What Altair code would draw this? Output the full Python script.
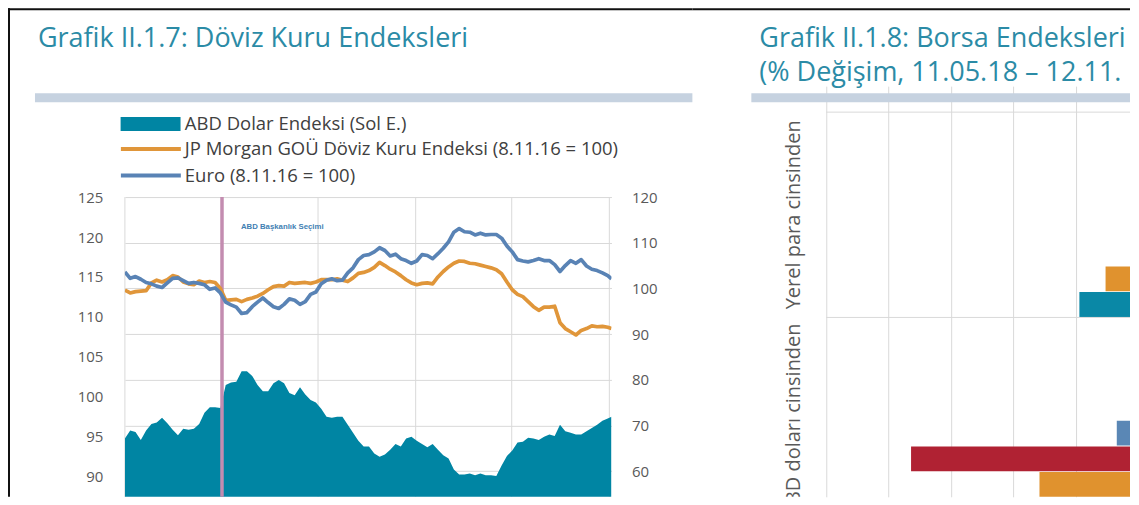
import altair as alt
import pandas as pd

# ---------------- Left panel: exchange-rate indices ----------------
dates = pd.date_range("2016-05-09", periods=92, freq="10D").strftime("%Y-%m-%d").tolist() + ["2018-11-12"]

dxy = [94.8, 95.8, 95.6, 94.6, 95.8, 96.6, 96.8, 97.4, 96.7, 95.9,
       95.2, 96.0, 95.9, 96.0, 96.6, 98.0, 98.7, 98.7, 98.6, 101.5,
       101.8, 101.9, 103.2, 103.2, 102.6, 101.5, 100.7, 100.7, 101.7, 102.1,
       101.7, 100.5, 100.2, 101.2, 100.3, 99.6, 99.3, 98.5, 97.5, 97.4,
       97.5, 97.5, 96.5, 95.5, 94.5, 93.8, 93.8, 92.9, 92.5, 92.8,
       93.4, 94.1, 93.8, 94.8, 95.0, 94.5, 94.1, 93.7, 94.1, 93.4,
       92.7, 92.3, 90.9, 90.3, 90.3, 90.4, 90.2, 90.4, 90.2, 90.2,
       90.1, 91.4, 92.6, 93.3, 94.3, 94.4, 94.9, 94.8, 94.6, 95.0,
       95.3, 95.1, 96.5, 95.7, 95.5, 95.3, 95.3, 95.7, 96.1, 96.5,
       97.0, 97.3, 97.5]

euro = [103.6, 102.2, 102.6, 102.0, 101.3, 101.0, 100.5, 100.2, 101.2, 102.2,
        102.3, 101.7, 101.1, 101.3, 101.1, 100.8, 99.8, 100.1, 99.0, 97.0,
        96.4, 95.9, 94.5, 94.7, 96.0, 97.0, 97.9, 96.9, 96.0, 95.6,
        96.5, 97.7, 97.4, 96.5, 97.1, 98.7, 99.2, 101.0, 101.8, 102.1,
        101.7, 101.8, 103.4, 104.5, 106.3, 107.2, 107.4, 108.0, 108.9, 108.3,
        107.1, 107.5, 106.5, 106.1, 105.5, 106.0, 107.4, 107.2, 106.5, 107.6,
        108.8, 110.2, 112.3, 113.1, 112.4, 112.3, 111.7, 112.1, 111.7, 111.8,
        111.8, 111.0, 109.3, 108.0, 106.3, 106.0, 105.8, 106.1, 106.5, 106.1,
        106.1, 105.2, 103.7, 105.0, 106.1, 105.5, 106.3, 104.9, 104.2, 103.9,
        103.4, 102.8, 102.1]

jpm = [99.6, 99.0, 99.3, 99.4, 99.5, 101.2, 101.8, 101.4, 101.9, 102.8,
       102.5, 101.4, 101.0, 100.8, 101.6, 101.3, 101.5, 101.3, 100.0, 97.4,
       97.5, 97.6, 97.1, 97.6, 97.9, 98.3, 98.9, 99.7, 100.4, 100.6,
       100.5, 101.3, 101.1, 101.2, 101.3, 101.1, 101.4, 101.9, 101.9, 101.9,
       102.1, 101.8, 101.5, 102.3, 103.3, 103.5, 103.9, 104.6, 105.7, 105.0,
       104.2, 103.6, 102.8, 101.9, 101.2, 100.8, 101.1, 101.2, 101.0, 102.5,
       103.7, 104.7, 105.5, 106.0, 105.9, 105.5, 105.4, 105.1, 104.8, 104.5,
       104.1, 103.2, 101.4, 99.7, 98.7, 98.2, 97.1, 96.0, 95.2, 95.9,
       95.9, 96.1, 92.5, 91.2, 90.5, 89.8, 90.8, 91.2, 91.8, 91.6,
       91.7, 91.5, 91.2]

grid_dates = ["2016-05-09", "2016-11-08", "2017-05-08", "2017-11-08", "2018-05-08", "2018-11-08"]
election_date = "2016-11-08"
left_ticks = [90, 95, 100, 105, 110, 115, 120, 125]
right_ticks = [60, 70, 80, 90, 100, 110, 120]

name_dxy = "ABD Dolar Endeksi (Sol E.)"
name_jpm = "JP Morgan GOÜ Döviz Kuru Endeksi (8.11.16 = 100)"
name_eur = "Euro (8.11.16 = 100)"
annot_text = "ABD Başkanlık Seçimi"
title_left = "Grafik II.1.7: Döviz Kuru Endeksleri"

# ---------------- Right panel: stock indices ----------------
groups = ["Yerel para cinsinden", "ABD doları cinsinden"]
bar_series = ["MSCI Dünya", "ABD", "Euro Bölgesi", "Brezilya", "Rusya", "Türkiye", "MSCI GOÜ", "Güney Afrika"]
bar_colors = ["#9aa9b8", "#86b386", "#a893c2", "#d9bc8c", "#5a87b5", "#b02233", "#e0922e", "#0a88a6"]
local_vals = [-4.0, -2.5, -6.0, -7.0, -5.5, -9.5, -12.6, -14.7]
usd_vals = [-3.0, -6.0, -8.5, -10.2, -11.7, -28.2, -17.9, -22.5]
bar_ticks = [-35, -30, -25, -20, -15]
title_right_1 = "Grafik II.1.8: Borsa Endeksleri"
title_right_2 = "(% Değişim, 11.05.18 – 12.11.18)"

# ---------------- styles ----------------
TEAL = "#0085a3"
ORANGE = "#e0963a"
BLUE = "#5983b5"
GRID = "#d9d9d9"
TXT = "#595959"
TITLE = "#2b8ba6"
BAND = "#c6d2e0"
FONT = "Open Sans"


def dt(s):
    return alt.DateTime(year=int(s[:4]), month=int(s[5:7]), date=int(s[8:10]))


one = pd.DataFrame({"k": [0]})


def box(x, x2, y, y2, color):
    return alt.Chart(one).mark_rect(color=color).encode(
        x=alt.value(x), x2=alt.value(x2), y=alt.value(y), y2=alt.value(y2))


def label(x, y, txt, size, color, **kw):
    return alt.Chart(one).mark_text(align="left", baseline="middle", font=FONT,
                                    fontSize=size, color=color, **kw).encode(
        x=alt.value(x), y=alt.value(y), text=alt.value(txt))


# ---- left chart (plot origin sits at the top of the right panel's plot) ----
df_dxy = pd.DataFrame({"date": dates, "value": dxy, "series": name_dxy})
df_lines = pd.concat([
    pd.DataFrame({"date": dates, "value": jpm, "series": name_jpm}),
    pd.DataFrame({"date": dates, "value": euro, "series": name_eur}),
], ignore_index=True)

xscale = alt.Scale(domain=[dt(dates[0]), dt(dates[-1])])
lscale = alt.Scale(domain=[87.5, 125], range=[385, 85], nice=False, zero=False)
rscale = alt.Scale(domain=[54.375, 120], range=[385, 85], nice=False, zero=False)
laxis = alt.Axis(orient="left", values=left_ticks, title=None, grid=False, ticks=False,
                 tickSize=0, domain=False, labelFont=FONT, labelFontSize=15,
                 labelColor=TXT, labelPadding=22)
raxis = alt.Axis(orient="right", values=right_ticks, title=None, grid=True, gridColor=GRID,
                 gridWidth=1, ticks=False, tickSize=0, domain=False, labelFont=FONT,
                 labelFontSize=15, labelColor=TXT, labelPadding=20)

vgrid = alt.Chart(pd.DataFrame({"date": grid_dates})).mark_rule(color=GRID, strokeWidth=1).encode(
    x=alt.X("date:T", scale=xscale, axis=None),
    y=alt.YDatum(125, scale=lscale, axis=laxis),
    y2=alt.Y2Datum(87.5),
)

area = alt.Chart(df_dxy).mark_area(clip=True, opacity=1).encode(
    x=alt.X("date:T", scale=xscale, axis=None),
    y=alt.Y("value:Q", scale=lscale, axis=laxis),
    fill=alt.Fill("series:N", scale=alt.Scale(domain=[name_dxy], range=[TEAL]),
                  legend=alt.Legend(title=None, orient="none", legendX=15.7, legendY=2,
                                    symbolType="M-3,-0.7H3V0.7H-3Z", symbolSize=400,
                                    symbolStrokeWidth=0, symbolOpacity=1, labelOffset=24.3,
                                    labelFont=FONT, labelFontSize=18.5, labelColor="#404040",
                                    labelLimit=700, padding=0)),
)

election = alt.Chart(pd.DataFrame({"date": [election_date]})).mark_rule(
    color="#c38cb0", strokeWidth=3.5).encode(
    x=alt.X("date:T", scale=xscale, axis=None),
    y=alt.YDatum(125, scale=lscale, axis=laxis),
    y2=alt.Y2Datum(87.5),
)

lines = alt.Chart(df_lines).mark_line(strokeWidth=3.7, clip=True, strokeJoin="round").encode(
    x=alt.X("date:T", scale=xscale, axis=None),
    y=alt.Y("value:Q", scale=rscale, axis=raxis),
    stroke=alt.Stroke("series:N", scale=alt.Scale(domain=[name_jpm, name_eur], range=[ORANGE, BLUE]),
                      legend=alt.Legend(title=None, orient="none", legendX=14, legendY=25,
                                        symbolType="M-3,0H3", symbolSize=400, symbolStrokeWidth=4,
                                        labelOffset=22, rowPadding=4.5, labelFont=FONT,
                                        labelFontSize=18.5, labelColor="#404040", labelLimit=700,
                                        padding=0)),
)

annot = alt.Chart(pd.DataFrame({"date": [election_date], "label": [annot_text]})).mark_text(
    align="left", baseline="middle", dx=19, font="Liberation Sans", fontSize=7.8,
    fontWeight="bold", color="#3f7fb3").encode(
    x=alt.X("date:T", scale=xscale, axis=None),
    y=alt.YDatum(113.4, scale=rscale, axis=raxis),
    text="label:N")

left = alt.layer(
    box(-117, 568, -104, -102, "#111111"),
    box(-117, -115, -104, 385, "#111111"),
    box(-90, 568, -19, -10, BAND),
    label(-87, -73, title_left, 27, TITLE),
    alt.layer(vgrid, area, election),
    alt.layer(lines, annot),
).resolve_scale(y="independent").properties(width=487, height=385)

# ---- right chart ----
slots = [f"{g}|{s}" for g in groups for s in bar_series]
df_bars = pd.DataFrame({"slot": slots, "series": bar_series * 2, "value": local_vals + usd_vals})
df_groups = pd.DataFrame({"group": groups})

bars = alt.Chart(df_bars).mark_bar(clip=True).encode(
    y=alt.Y("slot:N", sort=slots,
            scale=alt.Scale(domain=slots, range=[0, 411], paddingInner=0.03, paddingOuter=0),
            axis=None),
    x=alt.X("value:Q", scale=alt.Scale(domain=[-35, -10.64], rangeMin=52, nice=False, zero=False),
            axis=alt.Axis(values=bar_ticks, grid=True, gridColor=GRID, labels=False, ticks=False,
                          domain=False, title=None)),
    x2=alt.datum(0),
    color=alt.Color("series:N", scale=alt.Scale(domain=bar_series, range=bar_colors), legend=None),
)

gscale = alt.Scale(domain=groups, range=[0, 411], paddingInner=0, paddingOuter=0)
sep = alt.Chart(df_groups).mark_rule(color=GRID, strokeWidth=1).encode(
    y=alt.Y("group:N", bandPosition=0, scale=gscale, axis=None),
    x=alt.datum(-35), x2=alt.datum(-10.64))
glabels = alt.Chart(df_groups).mark_text(angle=270, align="center", baseline="middle", clip=True,
                                         font=FONT, fontSize=20, color=TXT).encode(
    y=alt.Y("group:N", scale=gscale, axis=None), x=alt.value(20), text="group:N")

right = alt.layer(
    box(-82, 356, -104, -102, "#111111"),
    box(-23, 356, -19, -10, BAND),
    label(-15, -73, title_right_1, 27, TITLE),
    label(-15, -39.5, title_right_2, 27, TITLE, limit=371, ellipsis="\u200b"),
    bars,
    alt.layer(sep, glabels),
).resolve_scale(y="independent").properties(width=356, height=385)

chart = alt.hconcat(left, right, spacing=0, bounds="full").properties(
    padding=0, background="white").configure_view(stroke=None)

chart.save("out.html", embed_options={"renderer": "svg", "actions": False})
